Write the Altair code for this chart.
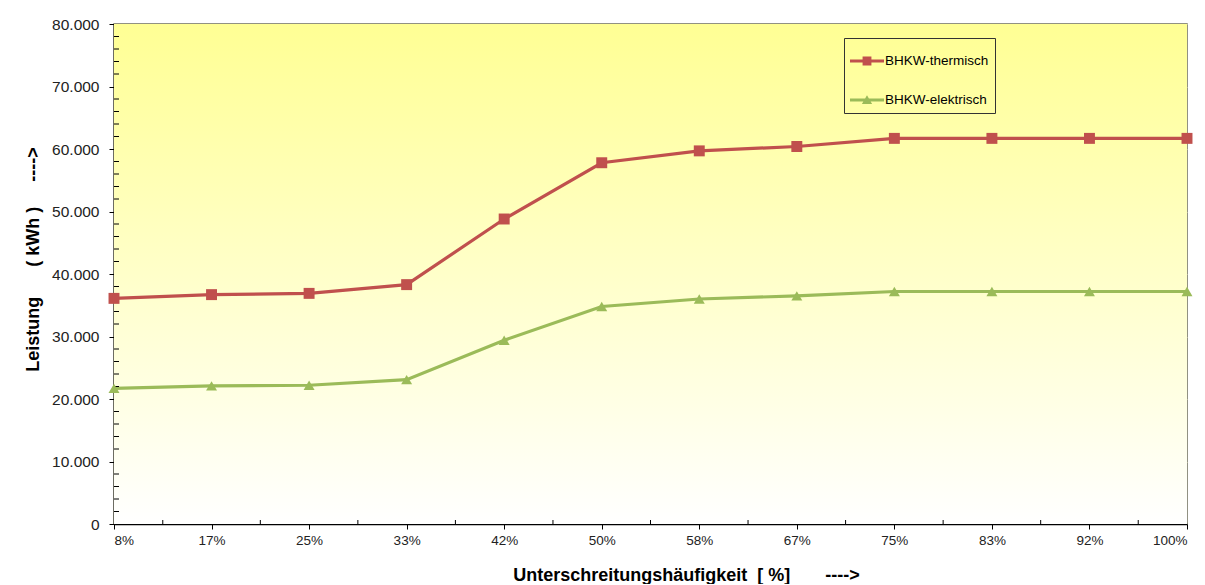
import altair as alt
import pandas as pd

# ---- data ----
labels = ["8%", "17%", "25%", "33%", "42%", "50%", "58%", "67%", "75%", "83%", "92%", "100%"]
thermisch = [36100, 36700, 36900, 38300, 48800, 57800, 59700, 60400, 61700, 61700, 61700, 61700]
elektrisch = [21700, 22100, 22200, 23100, 29400, 34800, 36000, 36500, 37200, 37200, 37200, 37200]
series_names = ["BHKW-thermisch", "BHKW-elektrisch"]
series_colors = ["#C0504D", "#9BBB59"]
y_major = [0, 10000, 20000, 30000, 40000, 50000, 60000, 70000, 80000]
y_minor = [v for v in range(0, 80001, 2000) if v % 10000 != 0]
x_idx = list(range(1, len(labels) + 1))
x_minor = [i + 0.5 for i in range(1, len(labels))]

rows = []
for i, lab in enumerate(labels):
    rows.append({"idx": i + 1, "label": lab, "series": series_names[0], "value": thermisch[i]})
    rows.append({"idx": i + 1, "label": lab, "series": series_names[1], "value": elektrisch[i]})
df = pd.DataFrame(rows)

W, H = 1073, 500
FONT = "Liberation Sans"

label_js = "[" + ",".join("'" + l + "'" for l in labels) + "]"

x_scale = alt.Scale(domain=[1, len(labels)], nice=False, zero=False)
y_scale = alt.Scale(domain=[0, 80000], nice=False)

x_axis = alt.Axis(
    values=x_idx, labelExpr=label_js + "[datum.value - 1]", grid=False,
    tickSize=5, tickColor="black", domainColor="black", domainWidth=1.5,
    labelFontSize=13.5, labelPadding=4, labelColor="#222", labelFont=FONT,
    title="Unterschreitungshäufigkeit\u00a0\u00a0[ %]\u00a0\u00a0\u00a0\u00a0\u00a0\u00a0\u00a0---->",
    titleFont=FONT, titleFontSize=18, titleFontWeight="bold", titleColor="black",
    titlePadding=20, titleX=572, titleAlign="center",
)
y_axis = alt.Axis(
    values=y_major, labelExpr="replace(format(datum.value, ','), ',', '.')",
    grid=True, gridColor="#D8D6B4", gridWidth=1,
    tickSize=5, tickColor="black", domainColor="black", domainWidth=1.5,
    labelFontSize=15.5, labelPadding=10, labelColor="#222", labelFont=FONT,
    title="Leistung\u00a0\u00a0\u00a0\u00a0\u00a0\u00a0(\u00a0kWh\u00a0)\u00a0\u00a0\u00a0\u00a0\u00a0---->",
    titleFont=FONT, titleFontSize=18, titleFontWeight="bold", titleColor="black",
    titlePadding=9, titleY=235, titleAlign="center",
)

color_scale = alt.Scale(domain=series_names, range=series_colors)

bg = alt.Chart(pd.DataFrame({"a": [0]})).mark_rect(
    color=alt.LinearGradient(
        gradient="linear",
        stops=[alt.GradientStop(color="#FFFF94", offset=0),
               alt.GradientStop(color="#FFFFC4", offset=0.45),
               alt.GradientStop(color="#FFFFFF", offset=1)],
        x1=0, x2=0, y1=0, y2=1,
    )
).encode(x=alt.value(0), x2=alt.value(W), y=alt.value(0), y2=alt.value(H))

base = alt.Chart(df)


def series_layers(name, color, shape, with_axes=False):
    sub = base.transform_filter(alt.datum.series == name)
    if with_axes:
        enc = dict(x=alt.X("idx:Q", scale=x_scale, axis=x_axis),
                   y=alt.Y("value:Q", scale=y_scale, axis=y_axis))
    else:
        enc = dict(x=alt.X("idx:Q", scale=x_scale), y=alt.Y("value:Q", scale=y_scale))
    ln = sub.mark_line(strokeWidth=3.2, color=color).encode(**enc)
    pt = sub.mark_point(filled=True, opacity=1, size=120, shape=shape, color=color).encode(
        x=alt.X("idx:Q", scale=x_scale), y=alt.Y("value:Q", scale=y_scale))
    return ln, pt


line_t, points_t = series_layers(series_names[0], series_colors[0], "square", with_axes=True)
line_e, points_e = series_layers(series_names[1], series_colors[1], "triangle-up")

legend_paths = [
    "M-1,-0.09H1V0.09H-1Z M-0.26,-0.26H0.26V0.26H-0.26Z",
    "M-1,-0.09H1V0.09H-1Z M-0.3,0.24L0,-0.28L0.3,0.24Z",
]
leg = alt.Legend(orient="none", legendX=730, legendY=14, title=None,
                 symbolSize=1156, symbolStrokeWidth=0, labelFont=FONT,
                 labelFontSize=13.5, labelColor="black", labelOffset=1,
                 rowPadding=15, padding=6, strokeColor="#333",
                 symbolOpacity=1, direction="vertical")
legend_layer = base.mark_point(filled=True, opacity=0).encode(
    x=alt.X("idx:Q", scale=x_scale),
    y=alt.Y("value:Q", scale=y_scale),
    color=alt.Color("series:N", scale=color_scale, title=None, legend=leg),
    shape=alt.Shape("series:N", scale=alt.Scale(domain=series_names, range=legend_paths),
                    title=None, legend=leg),
)

minor_x = alt.Chart(pd.DataFrame({"m": x_minor})).mark_rule(color="black", strokeWidth=1).encode(
    x=alt.X("m:Q", scale=x_scale), y=alt.value(H), y2=alt.value(H - 4)
)
minor_y = alt.Chart(pd.DataFrame({"m": y_minor})).mark_rule(color="black", strokeWidth=1).encode(
    y=alt.Y("m:Q", scale=y_scale), x=alt.value(0), x2=alt.value(5)
)

chart = alt.layer(bg, line_t, line_e, minor_x, minor_y, points_t, points_e, legend_layer).properties(
    width=W, height=H,
    autosize=alt.AutoSizeParams(type="none"),
    padding={"left": 106, "top": 16, "right": 10, "bottom": 60},
    background="white",
).configure_view(
    stroke="#6E6E5A", strokeWidth=1.5
)

chart.save("out.html", embed_options={"renderer": "svg", "actions": False})
